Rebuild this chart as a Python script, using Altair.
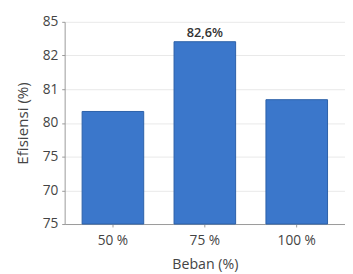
import altair as alt
import pandas as pd

categories = ["50 %", "75 %", "100 %"]
# bar heights expressed in axis-slot units (the reference axis has evenly spaced, non-linear labels)
bar_heights = [3.34, 5.41, 3.69]
bar_labels = ["", "82,6%", ""]
y_tick_labels = ["75", "70", "75", "80", "81", "82", "85"]

df = pd.DataFrame({"cat": categories, "h": bar_heights, "lab": bar_labels})

label_expr = "[" + ",".join("'%s'" % t for t in y_tick_labels) + "][datum.value]"

FONT = "Open Sans"
TXT = "#444444"

base = alt.Chart(df).encode(
    x=alt.X("cat:N", sort=categories, title="Beban (%)",
            scale=alt.Scale(paddingInner=0.33, paddingOuter=0.19),
            axis=alt.Axis(labelAngle=0, labelFontSize=14, labelColor=TXT, labelFont=FONT,
                          titleFontSize=14.5, titleColor=TXT, titleFont=FONT, titleFontWeight="normal",
                          domainColor="#999999", tickColor="#999999", tickSize=3,
                          labelPadding=7, titlePadding=11)),
    y=alt.Y("h:Q", title="Efisiensi (%)",
            scale=alt.Scale(domain=[0, 6], nice=False, zero=True),
            axis=alt.Axis(values=list(range(7)), labelExpr=label_expr,
                          labelFontSize=14, labelColor=TXT, labelFont=FONT,
                          titleFontSize=15.5, titleColor=TXT, titleFont=FONT, titleFontWeight="normal",
                          domainColor="#999999", tickColor="#999999", tickSize=3,
                          labelPadding=4, titlePadding=12, grid=True, gridColor="#e8e8e8")),
)

bars = base.mark_bar(color="#3b77cb", stroke="#2b5fa8", strokeWidth=1)
text = base.mark_text(dy=-9, fontSize=13, fontWeight=600, color="#333333", font=FONT).encode(text="lab:N")

chart = (bars + text).properties(
    width=287, height=207,
    autosize=alt.AutoSizeParams(type="none"),
    padding={"left": 58, "top": 11, "right": 0, "bottom": 48},
).configure_view(stroke=None)

chart.save("out.html", embed_options={"renderer": "svg", "actions": False})
